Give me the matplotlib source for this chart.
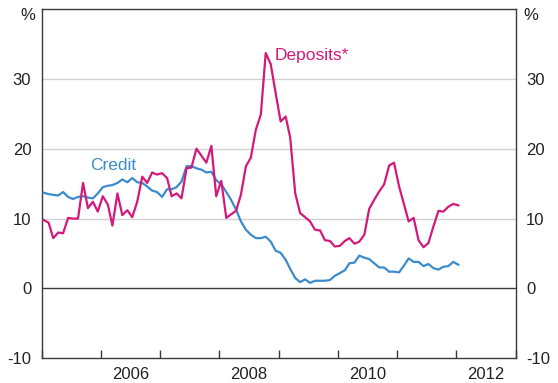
import matplotlib
matplotlib.use("Agg")
import matplotlib.pyplot as plt
import matplotlib.dates as mdates
import pandas as pd
from datetime import datetime

# monthly growth, Jan 2005 - Jan 2012 (per cent)
months = pd.date_range("2005-01-01", periods=85, freq="MS") + pd.Timedelta(days=12)

credit = [13.7, 13.5, 13.4, 13.3, 13.8, 13.1, 12.8, 13.1, 13.2, 13.0, 12.9, 13.6,
          14.5, 14.7, 14.8, 15.1, 15.6, 15.2, 15.8, 15.2, 15.1, 14.6, 14.0, 13.8,
          13.1, 14.2, 14.2, 14.5, 15.3, 17.5, 17.5, 17.2, 17.0, 16.6, 16.7, 15.5,
          14.9, 13.8, 12.7, 11.3, 9.6, 8.4, 7.7, 7.2, 7.2, 7.4, 6.7, 5.4,
          5.1, 4.1, 2.8, 1.5, 0.9, 1.3, 0.8, 1.1, 1.1, 1.1, 1.2, 1.8,
          2.2, 2.6, 3.6, 3.7, 4.7, 4.4, 4.2, 3.6, 3.0, 3.0, 2.4, 2.4,
          2.3, 3.3, 4.3, 3.8, 3.8, 3.2, 3.5, 2.9, 2.7, 3.1, 3.2, 3.8,
          3.4]

deposits = [9.8, 9.4, 7.2, 8.0, 7.9, 10.1, 10.0, 10.0, 15.1, 11.5, 12.4, 11.0,
            13.2, 12.0, 9.0, 13.6, 10.5, 11.2, 10.2, 12.4, 16.0, 15.1, 16.6, 16.3,
            16.5, 15.8, 13.2, 13.6, 12.9, 17.2, 17.3, 20.0, 19.0, 18.0, 20.4, 13.2,
            15.4, 10.1, 10.6, 11.1, 13.4, 17.5, 18.7, 22.7, 24.9, 33.7, 32.1, 28.0,
            23.9, 24.6, 21.6, 13.6, 10.8, 10.2, 9.6, 8.4, 8.3, 6.9, 6.8, 6.0,
            6.1, 6.8, 7.2, 6.4, 6.7, 7.7, 11.4, 12.7, 13.9, 14.9, 17.6, 18.0,
            14.6, 12.0, 9.6, 10.1, 6.9, 5.9, 6.5, 8.9, 11.1, 11.0, 11.7, 12.1,
            11.9]

yticks = [-10, 0, 10, 20, 30]
year_labels = [2006, 2008, 2010, 2012]

blue = "#3b8bcd"
magenta = "#d4197c"
plt.rcParams['font.family'] = ['Liberation Sans', 'DejaVu Sans']

fig = plt.figure(figsize=(5.58, 3.83), dpi=100)
ax = fig.add_axes([0.0747, 0.0645, 0.8495, 0.912])

for y in [10, 20, 30]:
    ax.axhline(y, color="#d2d2d2", lw=1.0, zorder=0)
ax.axhline(0, color="#3a3a3a", lw=1.0, zorder=1)

ax.plot(months, credit, color=blue, lw=1.6, zorder=3)
ax.plot(months, deposits, color=magenta, lw=1.6, zorder=3)

ax.set_xlim(datetime(2005, 1, 1), datetime(2013, 1, 1))
ax.set_ylim(-10, 40)

ax.set_yticks(yticks)
ax.set_yticklabels([str(t) for t in yticks])
ax.tick_params(axis="y", left=False, right=False, labelleft=True, labelright=True,
               labelsize=12, colors="#222222", pad=4)

ax.xaxis.set_major_locator(mdates.YearLocator())
ax.xaxis.set_major_formatter(plt.NullFormatter())
ax.xaxis.set_minor_locator(plt.FixedLocator([mdates.date2num(datetime(y, 7, 2)) for y in year_labels]))
ax.xaxis.set_minor_formatter(plt.FixedFormatter([str(y) for y in year_labels]))
ax.tick_params(axis="x", which="major", direction="in", length=6, width=1, color="#3a3a3a")
ax.tick_params(axis="x", which="minor", length=0, pad=6, labelsize=12, labelcolor="#222222")

for s in ax.spines.values():
    s.set_color("#3a3a3a")
    s.set_linewidth(1.0)

ax.text(-0.013, 0.982, "%", transform=ax.transAxes, ha="right", va="center", fontsize=12, color="#222222")
ax.text(1.016, 0.982, "%", transform=ax.transAxes, ha="left", va="center", fontsize=12, color="#222222")

ax.text(datetime(2005, 10, 28), 17.6, "Credit", color=blue, fontsize=12.5, ha="left", va="center")
ax.text(datetime(2008, 12, 8), 33.4, "Deposits*", color=magenta, fontsize=12.5, ha="left", va="center")

fig.savefig("out.png", dpi=100)
